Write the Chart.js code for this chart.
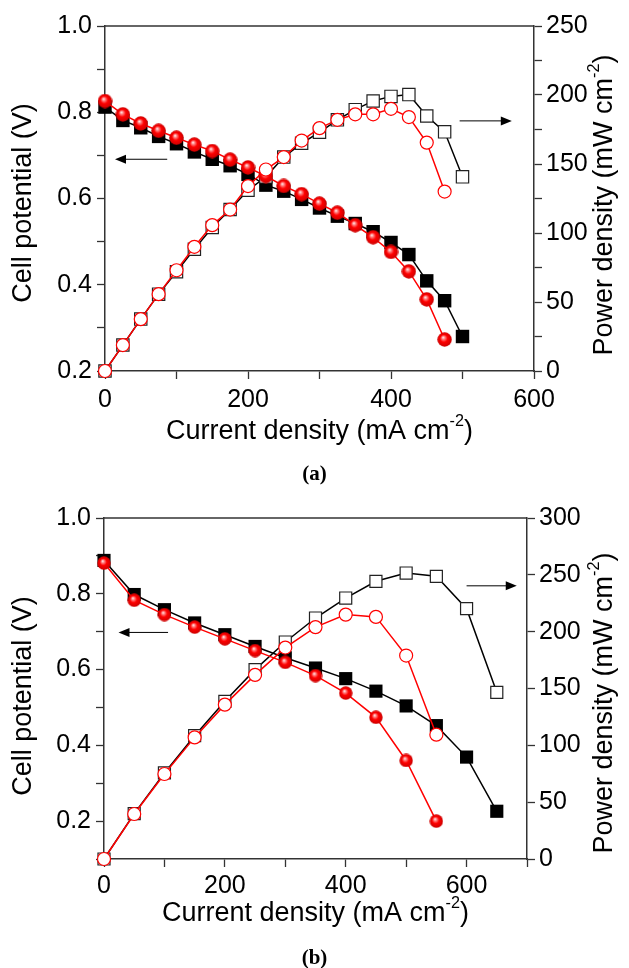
<!DOCTYPE html>
<html>
<head>
<meta charset="utf-8">
<script src="https://cdn.jsdelivr.net/npm/chart.js@4.4.1/dist/chart.umd.min.js"></script>
<style>
    body { margin: 0; background: #fff; width: 629px; height: 968px; position: relative; overflow: hidden; }
    .box { position: absolute; left: 0; width: 629px; height: 484px; }
    .lab { position: absolute; left: 0; width: 629px; text-align: center; font: bold 21px "Liberation Serif", "Times New Roman", serif; color: #000; }
</style>
</head>
<body>
<div class="box" style="top:0px"><canvas id="chartA" width="629" height="484"></canvas></div>
<div class="box" style="top:484px"><canvas id="chartB" width="629" height="484"></canvas></div>
<div class="lab" style="top:461px">(a)</div>
<div class="lab" style="top:945px">(b)</div>
<script>
// Data for panel (a): current density in mA cm-2
const currentBlackA = [0, 25, 50, 75, 100, 125, 150, 175, 200, 225, 250, 275, 300, 325, 350, 375, 400, 425, 450, 475, 500];
const currentRedA = [0, 25, 50, 75, 100, 125, 150, 175, 200, 225, 250, 275, 300, 325, 350, 375, 400, 425, 450, 475];
// Cell potential (V)
const voltBlackA = [0.812, 0.781, 0.764, 0.744, 0.727, 0.708, 0.691, 0.676, 0.656, 0.631, 0.617, 0.598, 0.578, 0.559, 0.542, 0.523, 0.498, 0.470, 0.409, 0.363, 0.280];
const voltRedA = [0.826, 0.795, 0.774, 0.757, 0.741, 0.725, 0.710, 0.690, 0.672, 0.652, 0.629, 0.610, 0.588, 0.567, 0.538, 0.510, 0.476, 0.431, 0.366, 0.273];
// Power density (mW cm-2)
const powerBlackA = [0, 18.8, 37.6, 55.7, 71.9, 88.3, 104, 117, 131, 140.7, 155, 165, 173, 182, 189.4, 195.7, 199, 200.3, 184.8, 173.3, 140.7];
const powerRedA = [0, 18.8, 37.6, 55.7, 73, 90, 105.7, 117, 134, 146, 155, 167, 176, 182, 186, 186, 190, 184, 165.5, 130];

// Data for panel (b)
const currentBlackB = [0, 50, 100, 150, 200, 250, 300, 350, 400, 450, 500, 550, 600, 650];
const currentRedB = [0, 50, 100, 150, 200, 250, 300, 350, 400, 450, 500, 550];
const voltBlackB = [0.888, 0.798, 0.758, 0.723, 0.692, 0.661, 0.631, 0.604, 0.576, 0.543, 0.504, 0.452, 0.369, 0.226];
const voltRedB = [0.881, 0.783, 0.745, 0.712, 0.681, 0.650, 0.619, 0.584, 0.538, 0.474, 0.360, 0.200];
const powerBlackB = [0, 39.9, 75.7, 108.5, 138.7, 166.6, 190.9, 212, 229.6, 244.3, 251.6, 248.7, 220.2, 146.6];
const powerRedB = [0, 39.6, 74.8, 107, 135.8, 162, 186, 204, 215, 213, 179, 109.4];

const FONT = '"Liberation Sans", Arial, Helvetica, sans-serif';

// Red shaded ball used as marker
function makeSphere(d) {
    const c = document.createElement('canvas');
    c.width = d;
    c.height = d;
    const g = c.getContext('2d');
    const r = d / 2;
    const grad = g.createRadialGradient(r * 0.8, r * 0.7, 0, r, r, r);
    grad.addColorStop(0, '#ffffff');
    grad.addColorStop(0.22, '#ff8080');
    grad.addColorStop(0.5, '#ff0000');
    grad.addColorStop(1, '#c80000');
    g.fillStyle = grad;
    g.beginPath();
    g.arc(r, r, r - 0.3, 0, Math.PI * 2);
    g.fill();
    return c;
}

function toPoints(xs, ys) {
    return ys.map((y, i) => ({ x: xs[i], y: y }));
}

// Draws text with superscript parts, centered on the current origin
function drawRich(ctx, parts, size) {
    let total = 0;
    parts.forEach(p => {
        ctx.font = (p.sup ? size * 0.6 : size) + 'px ' + FONT;
        p.w = ctx.measureText(p.t).width;
        total += p.w;
    });
    let x = -total / 2;
    parts.forEach(p => {
        ctx.font = (p.sup ? size * 0.6 : size) + 'px ' + FONT;
        ctx.fillText(p.t, x, p.sup ? -size * 0.4 : 0);
        x += p.w;
    });
}

// Frame line at the top, arrows and axis titles
const extrasPlugin = {
    id: 'extras',
    afterDraw(chart, args, opts) {
        const ctx = chart.ctx;
        const area = chart.chartArea;
        ctx.save();
        ctx.strokeStyle = '#333';
        ctx.lineWidth = 1.5;
        ctx.beginPath();
        ctx.moveTo(area.left, area.top);
        ctx.lineTo(area.right, area.top);
        ctx.stroke();

        opts.arrows.forEach(a => {
            const x1 = chart.scales.x.getPixelForValue(a.from);
            const x2 = chart.scales.x.getPixelForValue(a.to);
            const y = chart.scales.y.getPixelForValue(a.at);
            const dir = Math.sign(x2 - x1);
            ctx.strokeStyle = '#000';
            ctx.lineWidth = 1;
            ctx.beginPath();
            ctx.moveTo(x1, y);
            ctx.lineTo(x2 - dir * 8, y);
            ctx.stroke();
            ctx.fillStyle = '#000';
            ctx.beginPath();
            ctx.moveTo(x2, y);
            ctx.lineTo(x2 - dir * 11, y - 4.5);
            ctx.lineTo(x2 - dir * 11, y + 4.5);
            ctx.closePath();
            ctx.fill();
        });

        ctx.fillStyle = '#000';
        ctx.textBaseline = 'middle';
        ctx.textAlign = 'left';
        opts.titles.forEach(t => {
            ctx.save();
            ctx.translate(t.x, t.y);
            ctx.rotate(t.rot);
            drawRich(ctx, t.parts.map(p => Object.assign({}, p)), t.size);
            ctx.restore();
        });
        ctx.restore();
    }
};

function axisStyle() {
    return {
        grid: { drawOnChartArea: false, tickLength: 8, tickColor: '#333', tickWidth: 1.3 },
        border: { color: '#333', width: 1.5 }
    };
}

function makeChart(id, cfg) {
    const sphere = makeSphere(cfg.sphere);
    const W = 629, H = 484;
    new Chart(document.getElementById(id), {
        type: 'line',
        data: {
            datasets: [
                {
                    label: 'Power red',
                    data: toPoints(cfg.currentRed, cfg.powerRed),
                    yAxisID: 'y2',
                    order: 1,
                    borderColor: '#ff0000',
                    borderWidth: 1.5,
                    pointStyle: 'circle',
                    pointRadius: cfg.circle,
                    pointBackgroundColor: '#ffffff',
                    pointBorderColor: '#ff0000',
                    pointBorderWidth: 1.2
                },
                {
                    label: 'Potential red',
                    data: toPoints(cfg.currentRed, cfg.voltRed),
                    yAxisID: 'y',
                    order: 2,
                    borderColor: '#ff0000',
                    borderWidth: 1.5,
                    pointStyle: sphere,
                    pointRadius: cfg.sphere / 2
                },
                {
                    label: 'Power black',
                    data: toPoints(cfg.currentBlack, cfg.powerBlack),
                    yAxisID: 'y2',
                    order: 3,
                    borderColor: '#000000',
                    borderWidth: 1.5,
                    pointStyle: 'rect',
                    pointRadius: cfg.square - 0.8,
                    pointBackgroundColor: '#ffffff',
                    pointBorderColor: '#222222',
                    pointBorderWidth: 1.2
                },
                {
                    label: 'Potential black',
                    data: toPoints(cfg.currentBlack, cfg.voltBlack),
                    yAxisID: 'y',
                    order: 4,
                    borderColor: '#000000',
                    borderWidth: 1.5,
                    pointStyle: 'rect',
                    pointRadius: cfg.square,
                    pointBackgroundColor: '#000000',
                    pointBorderColor: '#000000',
                    pointBorderWidth: 0
                }
            ]
        },
        options: {
            responsive: false,
            animation: false,
            clip: false,
            layout: { padding: { top: cfg.top, left: 0, right: 0, bottom: 0 } },
            plugins: {
                legend: { display: false },
                tooltip: { enabled: false },
                extras: {
                    arrows: cfg.arrows,
                    titles: [
                        { parts: [{ t: 'Current density (mA cm' }, { t: '-2', sup: true }, { t: ')' }], x: (cfg.left + cfg.right) / 2, y: cfg.xTitleY, rot: 0, size: 27 },
                        { parts: [{ t: 'Cell potential (V)' }], x: 24, y: cfg.yTitleY, rot: -Math.PI / 2, size: 27 },
                        { parts: [{ t: 'Power density (mW cm' }, { t: '-2', sup: true }, { t: ')' }], x: 605, y: cfg.y2TitleY, rot: -Math.PI / 2, size: 27 }
                    ]
                }
            },
            scales: {
                x: Object.assign(axisStyle(), {
                    type: 'linear',
                    min: cfg.xMax[0],
                    max: cfg.xMax[1],
                    afterFit: s => { s.height = H - cfg.bottom; },
                    ticks: {
                        stepSize: 100,
                        padding: cfg.xPad,
                        color: '#000',
                        font: { family: FONT, size: 25 },
                        callback: v => (v % 200 === 0 ? v : '')
                    }
                }),
                y: Object.assign(axisStyle(), {
                    position: 'left',
                    min: cfg.yRange[0],
                    max: cfg.yRange[1],
                    afterFit: s => { s.width = cfg.left; },
                    ticks: {
                        stepSize: 0.1,
                        padding: 5,
                        color: '#000',
                        font: { family: FONT, size: 25 },
                        callback: v => (Math.round(v * 10) % 2 === 0 ? v.toFixed(1) : '')
                    }
                }),
                y2: Object.assign(axisStyle(), {
                    position: 'right',
                    min: 0,
                    max: cfg.y2Max,
                    afterFit: s => { s.width = W - cfg.right; },
                    ticks: {
                        stepSize: 25,
                        padding: 4,
                        color: '#000',
                        font: { family: FONT, size: 25 },
                        callback: v => (v % 50 === 0 ? v : '')
                    }
                })
            }
        },
        plugins: [extrasPlugin]
    });
}

// Panel (a)
makeChart('chartA', {
    currentBlack: currentBlackA, currentRed: currentRedA,
    voltBlack: voltBlackA, voltRed: voltRedA,
    powerBlack: powerBlackA, powerRed: powerRedA,
    xMax: [0, 600], yRange: [0.2, 1.0], y2Max: 250,
    left: 105, right: 534, top: 26, bottom: 371, xPad: 6,
    xTitleY: 432, yTitleY: 203, y2TitleY: 205,
    sphere: 15, circle: 6.5, square: 9.5,
    arrows: [{ from: 87, to: 14, at: 0.691 }, { from: 496, to: 569, at: 0.78 }]
});

// Panel (b)
makeChart('chartB', {
    currentBlack: currentBlackB, currentRed: currentRedB,
    voltBlack: voltBlackB, voltRed: voltRedB,
    powerBlack: powerBlackB, powerRed: powerRedB,
    xMax: [0, 700], yRange: [0.1, 1.0], y2Max: 300,
    left: 104, right: 527, top: 34, bottom: 375, xPad: 4,
    xTitleY: 430, yTitleY: 212, y2TitleY: 219,
    sphere: 14, circle: 6.5, square: 9.3,
    arrows: [{ from: 106, to: 24, at: 0.698 }, { from: 600, to: 683, at: 0.821 }]
});
</script>
</body>
</html>
